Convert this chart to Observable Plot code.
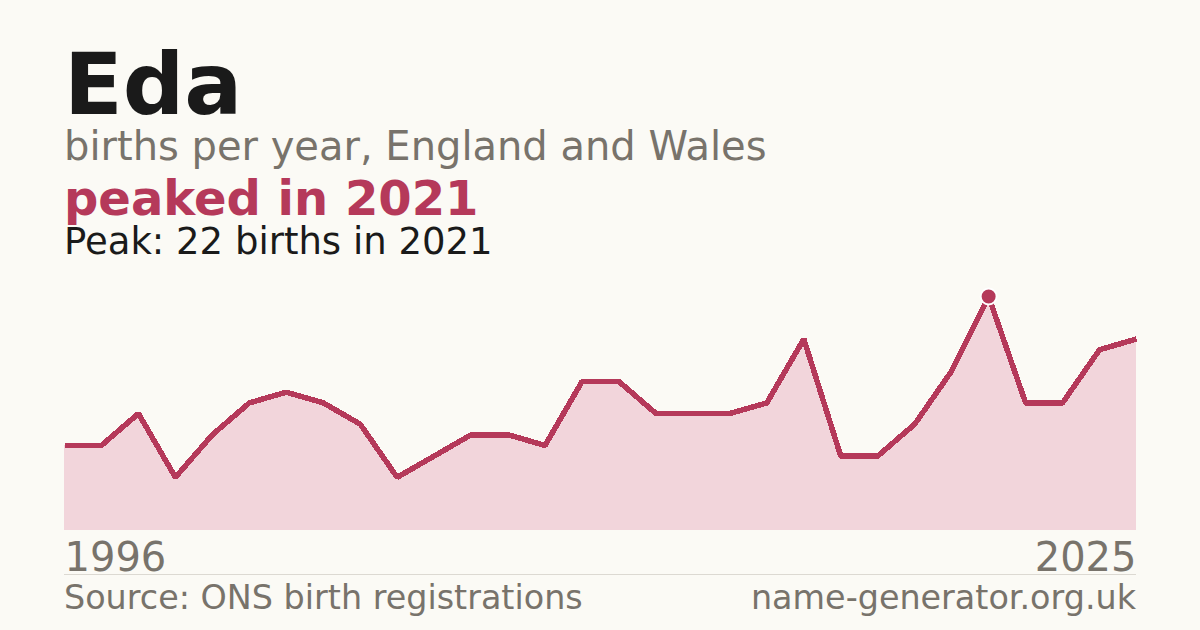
<!DOCTYPE html>
<html><head><meta charset="utf-8">
<script src="https://cdn.jsdelivr.net/npm/d3@7"></script>
<script src="https://cdn.jsdelivr.net/npm/@observablehq/plot@0.6"></script>
<style>
html,body{margin:0;padding:0;background:#fbfaf5;width:1200px;height:630px;overflow:hidden;font-family:"DejaVu Sans",sans-serif;}
.t{position:absolute;left:64px;white-space:nowrap;line-height:0.8;}
#title{top:50px;font-size:86px;font-weight:bold;color:#1a1a1a;}
#sub{top:130px;font-size:40px;color:#78736b;}
#hl{top:179px;font-size:48px;font-weight:bold;color:#b5395a;}
#peak{top:227px;font-size:37px;color:#1a1a1a;}
#chart{position:absolute;left:0;top:270px;}
#rule{position:absolute;left:64px;width:1072px;top:574px;height:1px;background:#dcd9d2;}
.foot{position:absolute;top:585px;font-size:33.4px;color:#78736b;white-space:nowrap;line-height:0.8;}
</style></head>
<body>
<div class="t" id="title">Eda</div>
<div class="t" id="sub">births per year, England and Wales</div>
<div class="t" id="hl">peaked in 2021</div>
<div class="t" id="peak">Peak: 22 births in 2021</div>
<div id="chart"></div>
<div id="rule"></div>
<div class="foot" style="left:64px">Source: ONS birth registrations</div>
<div class="foot" style="right:64px">name-generator.org.uk</div>
<script>
const years = [1996,1997,1998,1999,2000,2001,2002,2003,2004,2005,2006,2007,2008,2009,2010,2011,2012,2013,2014,2015,2016,2017,2018,2019,2020,2021,2022,2023,2024,2025];
const births = [8,8,11,5,9,12,13,12,10,5,7,9,9,8,14,14,11,11,11,12,18,7,7,10,15,22,12,12,17,18];
const peakYear = [2021];
const peakValue = [22];
const startLabel = ["1996"];
const endLabel = ["2025"];

const data = years.map((y,i)=>({year:y, births:births[i]}));
const peak = peakYear.map((y,i)=>({year:y, births:peakValue[i]}));

const plot = Plot.plot({
  width:1200, height:310,
  marginLeft:64, marginRight:64, marginTop:26, marginBottom:50,
  x:{domain:[years[0], years[years.length-1]], axis:null},
  y:{domain:[0, d3.max(births)], axis:null},
  style:{background:"transparent", fontFamily:"DejaVu Sans, sans-serif"},
  marks:[
    Plot.areaY(data,{x:"year", y:"births", fill:"#f2d5db"}),
    Plot.lineY(data,{x:"year", y:"births", stroke:"#b5395a", strokeWidth:5.5, strokeLinejoin:"miter", strokeLinecap:"butt", shapeRendering:"crispEdges"}),
    Plot.dot(peak,{x:"year", y:"births", r:8, fill:"#b5395a", stroke:"#ffffff", strokeWidth:2}),
    Plot.text(startLabel.map(Number),{x:d=>d, y:0, text:(d,i)=>startLabel[i], textAnchor:"start", lineAnchor:"bottom", dy:40, fontSize:40, fill:"#78736b"}),
    Plot.text(endLabel.map(Number),{x:d=>d, y:0, text:(d,i)=>endLabel[i], textAnchor:"end", lineAnchor:"bottom", dy:40, fontSize:40, fill:"#78736b"})
  ]
});
document.getElementById("chart").appendChild(plot);
</script>
</body></html>
